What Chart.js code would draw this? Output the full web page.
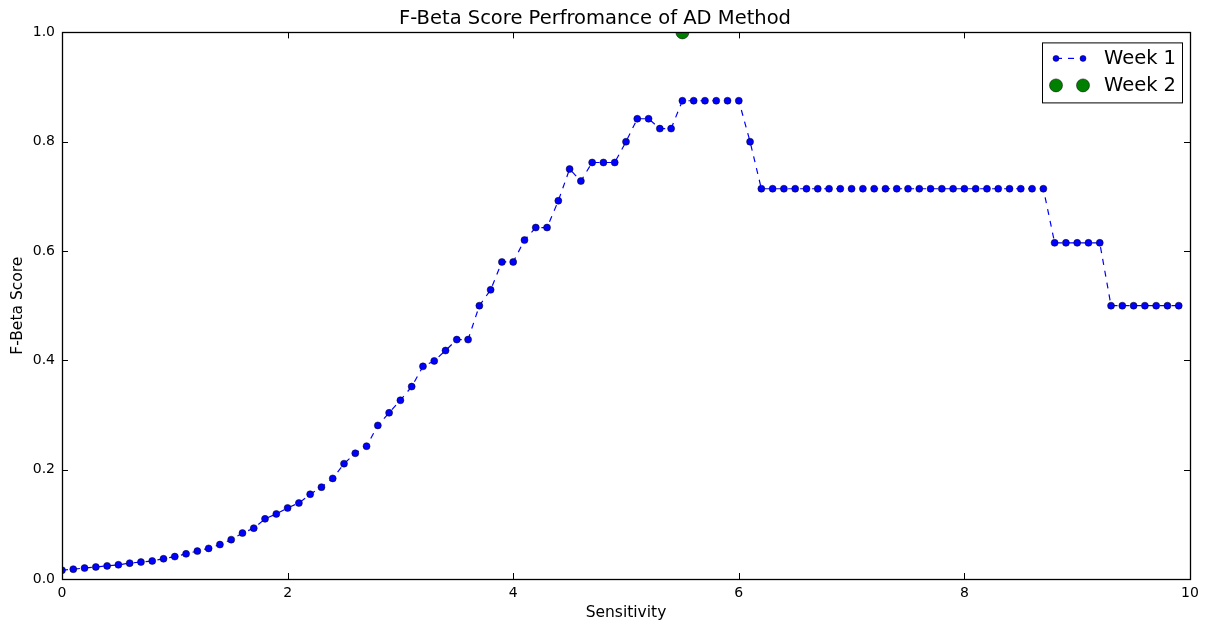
<!DOCTYPE html>
<html>
<head>
<meta charset="utf-8">
<title>F-Beta Score</title>
<script src="https://cdn.jsdelivr.net/npm/chart.js@4/dist/chart.umd.min.js"></script>
<style>
  html, body { margin: 0; padding: 0; background: #fff; }
  canvas { display: block; }
</style>
</head>
<body>
<canvas id="fbetaChart" width="1209" height="626"></canvas>
<script>
const sensitivity = [
    0.0, 0.1, 0.2, 0.3, 0.4, 0.5, 0.6, 0.7, 0.8, 0.9,
    1.0, 1.1, 1.2, 1.3, 1.4, 1.5, 1.6, 1.7, 1.8, 1.9,
    2.0, 2.1, 2.2, 2.3, 2.4, 2.5, 2.6, 2.7, 2.8, 2.9,
    3.0, 3.1, 3.2, 3.3, 3.4, 3.5, 3.6, 3.7, 3.8, 3.9,
    4.0, 4.1, 4.2, 4.3, 4.4, 4.5, 4.6, 4.7, 4.8, 4.9,
    5.0, 5.1, 5.2, 5.3, 5.4, 5.5, 5.6, 5.7, 5.8, 5.9,
    6.0, 6.1, 6.2, 6.3, 6.4, 6.5, 6.6, 6.7, 6.8, 6.9,
    7.0, 7.1, 7.2, 7.3, 7.4, 7.5, 7.6, 7.7, 7.8, 7.9,
    8.0, 8.1, 8.2, 8.3, 8.4, 8.5, 8.6, 8.7, 8.8, 8.9,
    9.0, 9.1, 9.2, 9.3, 9.4, 9.5, 9.6, 9.7, 9.8, 9.9
];

const week1Scores = [
    0.016, 0.018, 0.020, 0.022, 0.024, 0.026, 0.029, 0.031, 0.033, 0.037,
    0.041, 0.046, 0.051, 0.056, 0.063, 0.072, 0.084, 0.093, 0.110, 0.119,
    0.130, 0.139, 0.155, 0.168, 0.184, 0.211, 0.230, 0.243, 0.281, 0.304,
    0.327, 0.352, 0.389, 0.399, 0.418, 0.438, 0.438, 0.500, 0.529, 0.580,
    0.580, 0.620, 0.643, 0.643, 0.692, 0.750, 0.728, 0.762, 0.762, 0.762,
    0.800, 0.842, 0.842, 0.824, 0.824, 0.875, 0.875, 0.875, 0.875, 0.875,
    0.875, 0.800, 0.714, 0.714, 0.714, 0.714, 0.714, 0.714, 0.714, 0.714,
    0.714, 0.714, 0.714, 0.714, 0.714, 0.714, 0.714, 0.714, 0.714, 0.714,
    0.714, 0.714, 0.714, 0.714, 0.714, 0.714, 0.714, 0.714, 0.615, 0.615,
    0.615, 0.615, 0.615, 0.500, 0.500, 0.500, 0.500, 0.500, 0.500, 0.500
];

const week2Sensitivity = [5.5];
const week2Scores = [1.0];

const xTicks = [0, 2, 4, 6, 8, 10];
const yTicks = [0.0, 0.2, 0.4, 0.6, 0.8, 1.0];

const FONT = 'DejaVu Sans';

// matplotlib-style frame: box on all four sides, ticks pointing inward
const framePlugin = {
    id: 'frame',
    afterDatasetsDraw(chart) {
        const { ctx, chartArea: a, scales } = chart;
        const len = 6;
        ctx.save();
        ctx.strokeStyle = '#000';
        ctx.lineWidth = 1;
        ctx.beginPath();
        xTicks.forEach(v => {
            const px = Math.round(scales.x.getPixelForValue(v)) + 0.5;
            ctx.moveTo(px, a.bottom); ctx.lineTo(px, a.bottom - len);
            ctx.moveTo(px, a.top); ctx.lineTo(px, a.top + len);
        });
        yTicks.forEach(v => {
            const py = Math.round(scales.y.getPixelForValue(v)) + 0.5;
            ctx.moveTo(a.left, py); ctx.lineTo(a.left + len, py);
            ctx.moveTo(a.right, py); ctx.lineTo(a.right - len, py);
        });
        ctx.stroke();
        ctx.lineWidth = 1.3;
        ctx.strokeRect(Math.round(a.left) + 0.5, Math.round(a.top) + 0.5,
            Math.round(a.right - a.left), Math.round(a.bottom - a.top));
        ctx.restore();
    },
    afterDraw(chart) {
        const { ctx, chartArea: a } = chart;
        const boxW = 140, boxH = 60;
        const bx = a.right - 148, by = a.top + 10;
        ctx.save();
        ctx.fillStyle = '#fff';
        ctx.fillRect(bx, by, boxW, boxH);
        ctx.strokeStyle = '#000';
        ctx.lineWidth = 1;
        ctx.strokeRect(bx + 0.5, by + 0.5, boxW, boxH);

        const m1 = bx + 14, m2 = bx + 41;
        const r1 = by + 16, r2 = by + 43;
        // Week 1 entry: dashed line with two small markers
        ctx.strokeStyle = '#0000ff';
        ctx.lineWidth = 1.2;
        ctx.setLineDash([6, 6]);
        ctx.beginPath();
        ctx.moveTo(m1, r1); ctx.lineTo(m2, r1);
        ctx.stroke();
        ctx.setLineDash([]);
        [m1, m2].forEach(mx => {
            ctx.beginPath();
            ctx.arc(mx, r1, 3, 0, Math.PI * 2);
            ctx.fillStyle = '#0000ff';
            ctx.fill();
            ctx.lineWidth = 0.5;
            ctx.strokeStyle = '#000';
            ctx.stroke();
        });
        // Week 2 entry: two large green markers
        [m1, m2].forEach(mx => {
            ctx.beginPath();
            ctx.arc(mx, r2, 6.5, 0, Math.PI * 2);
            ctx.fillStyle = '#008000';
            ctx.fill();
            ctx.lineWidth = 0.5;
            ctx.strokeStyle = '#000';
            ctx.stroke();
        });
        ctx.fillStyle = '#000';
        ctx.font = '19.5px "' + FONT + '"';
        ctx.textBaseline = 'middle';
        ctx.textAlign = 'left';
        ctx.fillText('Week 1', bx + 62, r1 + 1);
        ctx.fillText('Week 2', bx + 62, r2 + 1);
        ctx.restore();
    }
};

const ctx = document.getElementById('fbetaChart').getContext('2d');
const fbetaChart = new Chart(ctx, {
    type: 'scatter',
    data: {
        datasets: [
            {
                label: 'Week 1',
                data: sensitivity.map((s, i) => ({ x: s, y: week1Scores[i] })),
                showLine: true,
                borderColor: '#0000ff',
                borderWidth: 1.2,
                borderDash: [6, 6],
                pointRadius: 3.5,
                pointBackgroundColor: '#0000ff',
                pointBorderColor: '#000',
                pointBorderWidth: 0.5,
                tension: 0
            },
            {
                label: 'Week 2',
                data: week2Sensitivity.map((s, i) => ({ x: s, y: week2Scores[i] })),
                showLine: false,
                pointRadius: 6.5,
                pointBackgroundColor: '#008000',
                pointBorderColor: '#000',
                pointBorderWidth: 0.5,
                clip: 0
            }
        ]
    },
    options: {
        responsive: false,
        animation: false,
        devicePixelRatio: 1,
        layout: { padding: { left: 0, right: 19, top: 0, bottom: 0 } },
        plugins: {
            legend: { display: false },
            tooltip: { enabled: false },
            title: {
                display: true,
                text: 'F-Beta Score Perfromance of AD Method',
                color: '#000',
                font: { family: FONT, size: 19.5, weight: 'normal' },
                padding: { top: 7, bottom: 2 }
            }
        },
        scales: {
            x: {
                type: 'linear',
                min: 0,
                max: 10,
                afterBuildTicks: scale => { scale.ticks = xTicks.map(v => ({ value: v })); },
                ticks: {
                    color: '#000',
                    padding: 6,
                    maxRotation: 0,
                    font: { family: FONT, size: 14 },
                    callback: value => value.toString()
                },
                grid: { display: false, drawTicks: false },
                border: { display: false },
                title: {
                    display: true,
                    text: 'Sensitivity',
                    color: '#000',
                    font: { family: FONT, size: 15.5 },
                    padding: { top: 0, bottom: 4 }
                },
                afterFit: scale => { scale.height = 47; }
            },
            y: {
                min: 0,
                max: 1,
                afterBuildTicks: scale => { scale.ticks = yTicks.map(v => ({ value: v })); },
                ticks: {
                    color: '#000',
                    padding: 7,
                    font: { family: FONT, size: 14 },
                    callback: value => value.toFixed(1)
                },
                grid: { display: false, drawTicks: false },
                border: { display: false },
                title: {
                    display: true,
                    text: 'F-Beta Score',
                    color: '#000',
                    font: { family: FONT, size: 15.5 },
                    padding: { top: 9, bottom: 0 }
                },
                afterFit: scale => { scale.width = 62; }
            }
        }
    },
    plugins: [framePlugin]
});
</script>
</body>
</html>
